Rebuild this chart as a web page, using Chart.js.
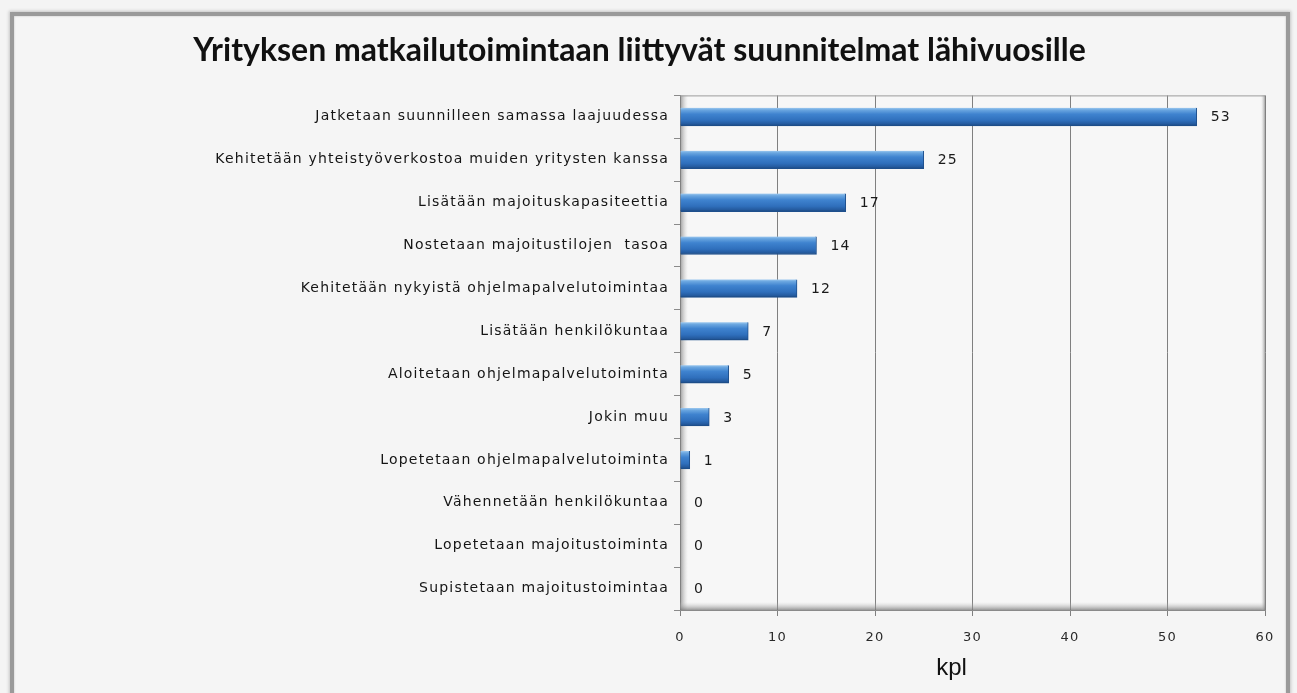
<!DOCTYPE html>
<html><head><meta charset="utf-8">
<script src="https://cdn.jsdelivr.net/npm/chart.js@4"></script>
<style>
html,body{margin:0;padding:0;background:#f4f4f4;overflow:hidden}
#wrap{position:relative;width:1297px;height:693px}
#frame{position:absolute;left:10px;top:12px;width:1272px;height:720px;border:4px solid #9a9a9a;box-shadow:0 0 3px 1px #c4c4c4, inset 0 0 2px #bbb;background:#f5f5f5}
canvas{position:absolute;left:0;top:0}
</style></head>
<body><div id="wrap"><div id="frame"></div><canvas id="c" width="1297" height="693"></canvas></div>
<script>
const titleText = "Yrityksen matkailutoimintaan liittyvät suunnitelmat lähivuosille";
const categories = [
  "Jatketaan suunnilleen samassa laajuudessa",
  "Kehitetään yhteistyöverkostoa muiden yritysten kanssa",
  "Lisätään majoituskapasiteettia",
  "Nostetaan majoitustilojen  tasoa",
  "Kehitetään nykyistä ohjelmapalvelutoimintaa",
  "Lisätään henkilökuntaa",
  "Aloitetaan ohjelmapalvelutoiminta",
  "Jokin muu",
  "Lopetetaan ohjelmapalvelutoiminta",
  "Vähennetään henkilökuntaa",
  "Lopetetaan majoitustoiminta",
  "Supistetaan majoitustoimintaa"
];
const values = [53, 25, 17, 14, 12, 7, 5, 3, 1, 0, 0, 0];
const xTicks = [0, 10, 20, 30, 40, 50, 60];
const axisTitle = "kpl";

const BAR_H = 18;
function barGradient(c) {
  const chart = c.chart;
  const ys = chart.scales && chart.scales.y;
  if (!ys || c.dataIndex === undefined || !chart.chartArea) return '#3d7cc9';
  const cy = ys.getPixelForValue(c.dataIndex);
  const g = chart.ctx.createLinearGradient(0, cy - BAR_H / 2, 0, cy + BAR_H / 2);
  g.addColorStop(0, '#9cc8ef');
  g.addColorStop(0.12, '#6aa6e0');
  g.addColorStop(0.35, '#3f83cf');
  g.addColorStop(0.7, '#2f6fbc');
  g.addColorStop(0.9, '#245a9e');
  g.addColorStop(1, '#1a4579');
  return g;
}

function spacedLabels(spacing) {
  return function (s) {
    if (s._spaced) return;
    s._spaced = true;
    const orig = s.drawLabels;
    s.drawLabels = function (ca) {
      const ctx = this.ctx;
      ctx.save();
      ctx.letterSpacing = spacing;
      orig.call(this, ca);
      ctx.restore();
    };
  };
}

function shiftTitle(dx) {
  return function (s) {
    if (s._shifted) return;
    s._shifted = true;
    const orig = s.drawTitle;
    s.drawTitle = function (ca) {
      const ctx = this.ctx;
      ctx.save();
      ctx.translate(dx, 0);
      orig.call(this, ca);
      ctx.restore();
    };
  };
}

const plotDecor = {
  id: 'plotDecor',
  beforeDraw(chart) {
    const {ctx, chartArea: a} = chart;
    ctx.save();
    ctx.fillStyle = '#f7f7f7';
    ctx.fillRect(a.left, a.top, a.right - a.left, a.bottom - a.top);
    ctx.restore();
  },
  beforeDatasetsDraw(chart) {
    const {ctx, chartArea: a} = chart;
    ctx.save();
    let g = ctx.createLinearGradient(a.left, 0, a.left + 8, 0);
    g.addColorStop(0, 'rgba(120,120,120,0.75)');
    g.addColorStop(1, 'rgba(200,200,200,0)');
    ctx.fillStyle = g;
    ctx.fillRect(a.left, a.top, 8, a.bottom - a.top);
    g = ctx.createLinearGradient(0, a.bottom, 0, a.bottom - 8);
    g.addColorStop(0, 'rgba(120,120,120,0.75)');
    g.addColorStop(1, 'rgba(200,200,200,0)');
    ctx.fillStyle = g;
    ctx.fillRect(a.left, a.bottom - 8, a.right - a.left, 8);
    g = ctx.createLinearGradient(a.right, 0, a.right - 4, 0);
    g.addColorStop(0, 'rgba(130,130,130,0.7)');
    g.addColorStop(1, 'rgba(200,200,200,0)');
    ctx.fillStyle = g;
    ctx.fillRect(a.right - 4, a.top, 4, a.bottom - a.top);
    ctx.strokeStyle = '#9a9a9a';
    ctx.lineWidth = 1;
    ctx.beginPath();
    ctx.moveTo(a.left, a.top + 0.5); ctx.lineTo(a.right, a.top + 0.5);
    ctx.stroke();
    ctx.restore();
  },
  afterDatasetsDraw(chart) {
    const {ctx} = chart;
    const meta = chart.getDatasetMeta(0);
    ctx.save();
    ctx.font = '14px "DejaVu Sans"';
    ctx.letterSpacing = '1px';
    ctx.fillStyle = '#1a1a1a';
    ctx.textAlign = 'left';
    ctx.textBaseline = 'middle';
    meta.data.forEach((bar, i) => {
      ctx.fillText(String(values[i]), bar.x + 14, bar.y + 1);
    });
    ctx.restore();
  }
};

new Chart(document.getElementById('c'), {
  type: 'bar',
  data: {
    labels: categories,
    datasets: [{
      data: values,
      backgroundColor: barGradient,
      borderColor: '#1e4f8c',
      borderWidth: {top: 0, left: 0, bottom: 1, right: 1},
      borderSkipped: 'left',
      barThickness: BAR_H
    }]
  },
  options: {
    indexAxis: 'y',
    responsive: false,
    animation: false,
    devicePixelRatio: 1,
    layout: {padding: {left: 14, right: 32, top: 0, bottom: 6}},
    plugins: {
      legend: {display: false},
      tooltip: {enabled: false},
      title: {
        display: true,
        text: titleText,
        color: '#111',
        font: {family: 'Lato', size: 32, weight: 'bold', lineHeight: 1.2},
        padding: {top: 31, bottom: 26}
      }
    },
    scales: {
      x: {
        min: 0, max: 60,
        afterBuildTicks(s) { s.ticks = xTicks.map(v => ({value: v})); },
        afterFit(s) { s.height = 693 - 6 - 610; spacedLabels('1.2px')(s); shiftTitle(-21)(s); },
        grid: {color: '#808080', lineWidth: 1, tickLength: 6, drawTicks: true},
        border: {display: true, color: '#8a8a8a'},
        ticks: {
          color: '#2a2a2a',
          font: {family: 'DejaVu Sans', size: 13},
          padding: 14,
          maxRotation: 0
        },
        title: {
          display: true,
          text: axisTitle,
          color: '#111',
          font: {family: 'Liberation Sans', size: 24, lineHeight: 1.2},
          padding: {top: 4, bottom: 4}
        }
      },
      y: {
        afterFit(s) { s.width = 666; spacedLabels('1.2px')(s); },
        grid: {display: true, drawOnChartArea: false, drawTicks: true, tickLength: 6, color: '#8a8a8a', offset: true},
        border: {display: true, color: '#8a8a8a'},
        ticks: {
          color: '#151515',
          font: {family: 'DejaVu Sans', size: 14},
          padding: 5,
          autoSkip: false
        }
      }
    }
  },
  plugins: [plotDecor]
});
</script>
</body></html>
